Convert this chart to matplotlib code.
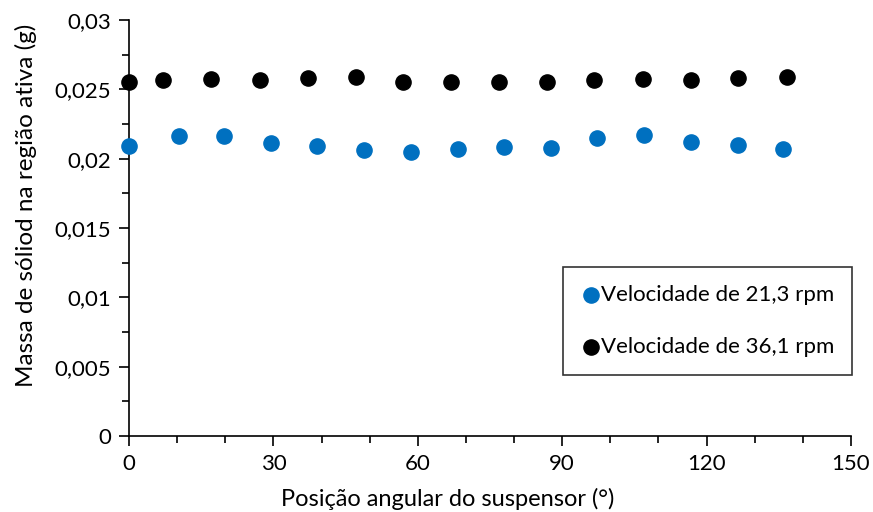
import numpy as np
import matplotlib
matplotlib.use('Agg')
import matplotlib.pyplot as plt
from matplotlib.ticker import MultipleLocator, FuncFormatter

# Dados
ang_213 = [0, 10.4, 19.7, 29.5, 39.1, 48.8, 58.6, 68.4, 77.9, 87.7, 97.2, 107.0, 116.8, 126.5, 135.9]
massa_213 = [0.02091, 0.02163, 0.02163, 0.02113, 0.02091, 0.02063, 0.02048, 0.02070,
             0.02084, 0.02077, 0.02149, 0.02170, 0.02120, 0.02098, 0.02070]

ang_361 = [0, 7.1, 17.0, 27.2, 37.2, 47.2, 56.9, 66.9, 76.9, 86.8, 96.6, 106.8, 116.8, 126.5, 136.7]
massa_361 = [0.02553, 0.02567, 0.02575, 0.02567, 0.02582, 0.02589, 0.02553, 0.02553,
             0.02553, 0.02553, 0.02567, 0.02575, 0.02567, 0.02582, 0.02589]

labels = ['Velocidade de 21,3 rpm', 'Velocidade de 36,1 rpm']


def virgula(v, pos):
    s = ('%.4f' % v).rstrip('0').rstrip('.')
    return s.replace('.', ',')


def main():
    plt.rcParams['font.family'] = ['Lato', 'DejaVu Sans']
    fig = plt.figure(figsize=(8.73, 5.12), dpi=100)
    ax = fig.add_axes([0.1478, 0.1484, 0.827, 0.8125])

    ax.scatter(ang_213, massa_213, s=120, color='#0070C0', label=labels[0], clip_on=False, zorder=3)
    ax.scatter(ang_361, massa_361, s=120, color='black', label=labels[1], clip_on=False, zorder=3)

    ax.set_xlim(0, 150)
    ax.set_ylim(0, 0.03)
    ax.xaxis.set_major_locator(MultipleLocator(30))
    ax.xaxis.set_minor_locator(MultipleLocator(10))
    ax.yaxis.set_major_locator(MultipleLocator(0.005))
    ax.yaxis.set_minor_locator(MultipleLocator(0.0025))
    ax.yaxis.set_major_formatter(FuncFormatter(virgula))
    ax.xaxis.set_major_formatter(FuncFormatter(lambda v, p: '%d' % v))

    for side in ['top', 'right']:
        ax.spines[side].set_visible(False)
    for side in ['left', 'bottom']:
        ax.spines[side].set_linewidth(1.2)
    ax.tick_params(which='major', length=7, width=1.2, labelsize=16, pad=6)
    ax.tick_params(which='minor', length=5, width=1.2)

    ax.set_xlabel('Posição angular do suspensor (°)', fontsize=17, labelpad=4)
    ax.xaxis.set_label_coords(0.442, -0.125)
    ax.set_ylabel('Massa de sóliod na região ativa (g)', fontsize=17.5, labelpad=8)
    ax.yaxis.set_label_coords(-0.128, 0.555)

    leg = ax.legend(loc='upper left', bbox_to_anchor=(0.601, 0.406), frameon=True, fancybox=False,
                    edgecolor='black', fontsize=16, handletextpad=0.0, labelspacing=1.45,
                    borderpad=0.8, handlelength=0.9, scatterpoints=1, borderaxespad=0)
    leg.get_frame().set_linewidth(1.2)

    fig.savefig('out.png', dpi=100)


if __name__ == "__main__":
    main()
